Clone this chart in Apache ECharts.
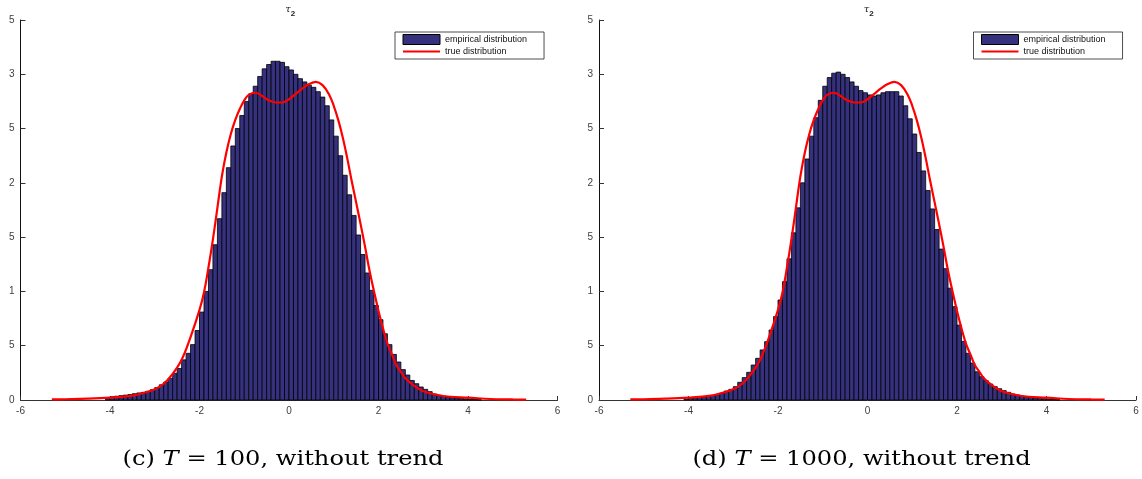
<!DOCTYPE html>
<html>
<head>
<meta charset="utf-8">
<title>tau_2: empirical vs true distribution</title>
<script src="https://cdn.jsdelivr.net/npm/echarts@6/dist/echarts.min.js"></script>
<style>
  * { margin: 0; padding: 0; }
  html, body { background: #fff; }
  #chart { width: 1142px; height: 479px; }
</style>
</head>
<body>
<div id="chart"></div>
<script>
// histogram bins: first bin starts at binLeft, all bins binWidth wide
var binLeft = -4.1;
var binWidth = 0.1;

// (c) T = 100
var histT100 = [
  0.0015, 0.003, 0.0035, 0.004, 0.0045, 0.005, 0.0058, 0.0065, 0.007, 0.008,
  0.0095, 0.0115, 0.014, 0.0165, 0.020, 0.0246, 0.029, 0.037, 0.043, 0.051,
  0.064, 0.081, 0.100, 0.120, 0.143, 0.167, 0.191, 0.214, 0.234, 0.250,
  0.262, 0.275, 0.282, 0.289, 0.298, 0.305, 0.309, 0.312, 0.312, 0.311,
  0.307, 0.304, 0.300, 0.296, 0.293, 0.290, 0.288, 0.284, 0.279, 0.271,
  0.258, 0.243, 0.225, 0.207, 0.189, 0.170, 0.152, 0.134, 0.117, 0.101,
  0.087, 0.074, 0.061, 0.051, 0.042, 0.035, 0.028, 0.023, 0.018, 0.015,
  0.012, 0.0098, 0.0077, 0.0055, 0.0043, 0.0034, 0.0028, 0.0022, 0.0018, 0.0014,
  0.0011, 0.0008, 0.0005, 0.0003
];

// (d) T = 1000
var histT1000 = [
  0.001, 0.0015, 0.002, 0.0025, 0.003, 0.0035, 0.0042, 0.005, 0.0061, 0.0083,
  0.0098, 0.0123, 0.0163, 0.0206, 0.0255, 0.0322, 0.0384, 0.0461, 0.0537, 0.0645,
  0.0768, 0.0921, 0.109, 0.130, 0.154, 0.177, 0.200, 0.222, 0.243, 0.260,
  0.276, 0.289, 0.297, 0.301, 0.302, 0.300, 0.297, 0.293, 0.289, 0.285,
  0.283, 0.281, 0.280, 0.281, 0.283, 0.284, 0.284, 0.284, 0.280, 0.271,
  0.259, 0.245, 0.228, 0.211, 0.193, 0.176, 0.157, 0.139, 0.121, 0.103,
  0.086, 0.069, 0.054, 0.043, 0.034, 0.026, 0.0215, 0.0178, 0.0147, 0.0123,
  0.0104, 0.0086, 0.0071, 0.0055, 0.0046, 0.0037, 0.0031, 0.0025, 0.002, 0.0015,
  0.0012, 0.0008, 0.0005, 0.0003
];

// true density (same in both panels)
var curveX = [-5.3, -5.0, -4.5, -4.0, -3.5, -3.3, -3.0, -2.8, -2.6, -2.4,
  -2.2, -2.0, -1.9, -1.8, -1.7, -1.6, -1.5, -1.4, -1.3, -1.2,
  -1.1, -1.0, -0.9, -0.75, -0.6, -0.45, -0.3, -0.15, 0.0, 0.15,
  0.3, 0.45, 0.6, 0.75, 0.9, 1.0, 1.1, 1.2, 1.3, 1.4,
  1.5, 1.6, 1.7, 1.8, 1.9, 2.0, 2.1, 2.2, 2.3, 2.4,
  2.5, 2.6, 2.8, 3.0, 3.3, 3.6, 4.0, 4.5, 5.0, 5.3];
var curveY = [0.0005, 0.0007, 0.0012, 0.0022, 0.004, 0.006, 0.010, 0.015, 0.024, 0.037,
  0.058, 0.083, 0.099, 0.122, 0.148, 0.177, 0.206, 0.228, 0.245, 0.258,
  0.268, 0.276, 0.281, 0.283, 0.280, 0.276, 0.274, 0.274, 0.277, 0.282,
  0.287, 0.291, 0.293, 0.290, 0.281, 0.271, 0.258, 0.242, 0.223, 0.202,
  0.182, 0.162, 0.141, 0.119, 0.100, 0.082, 0.066, 0.052, 0.042, 0.032,
  0.026, 0.020, 0.013, 0.008, 0.0048, 0.003, 0.0022, 0.0009, 0.0005, 0.0003];

var captionTag = ['(c) ', '(d) '];
var captionT = ['100', '1000'];

var barFill = '#35317f';

function histData(h) {
  return h.map(function (v, i) {
    return [binLeft + i * binWidth, binLeft + (i + 1) * binWidth, v];
  });
}
function curveData() {
  return curveX.map(function (x, i) { return [x, curveY[i]]; });
}
function renderBar(params, api) {
  var p0 = api.coord([api.value(0), api.value(2)]);
  var p1 = api.coord([api.value(1), 0]);
  return {
    type: 'rect',
    shape: { x: p0[0], y: p0[1], width: p1[0] - p0[0], height: p1[1] - p0[1] },
    style: { fill: barFill, stroke: '#000', lineWidth: 0.8 }
  };
}

var panelLeft = [20.5, 599];
var grids = [], xAxes = [], yAxes = [], series = [], legends = [], graphics = [];
var axisFont = { fontFamily: 'Liberation Sans', fontSize: 10, color: '#404040' };

[histT100, histT1000].forEach(function (hist, k) {
  grids.push({ left: panelLeft[k], top: 20, width: 537, height: 380 });
  xAxes.push({
    type: 'value', gridIndex: k, min: -6, max: 6, interval: 2,
    axisLine: { onZero: false, lineStyle: { color: '#333', width: 1 } },
    axisTick: { inside: true, length: 4, lineStyle: { color: '#333' } },
    axisLabel: Object.assign({ margin: 6 }, axisFont),
    splitLine: { show: false }
  });
  yAxes.push({
    type: 'value', gridIndex: k, min: 0, max: 0.35, interval: 0.05,
    axisLine: { show: true, onZero: false, lineStyle: { color: '#111', width: 1 } },
    axisTick: { show: true, inside: true, length: 5, lineStyle: { color: '#333' } },
    axisLabel: Object.assign({
      margin: 6,
      // the source figure clips the y labels to their last character
      formatter: function (v) { return String(+v.toFixed(2)).slice(-1); }
    }, axisFont),
    splitLine: { show: false }
  });
  series.push({
    name: 'empirical distribution', type: 'custom',
    xAxisIndex: k, yAxisIndex: k,
    renderItem: renderBar,
    encode: { x: [0, 1], y: 2 },
    itemStyle: { color: barFill, borderColor: '#000' },
    data: histData(hist),
    silent: true
  });
  series.push({
    name: 'true distribution', type: 'line',
    xAxisIndex: k, yAxisIndex: k,
    smooth: 0.4, symbol: 'none', showSymbol: false,
    lineStyle: { color: '#ff0000', width: 2.2 },
    itemStyle: { color: '#ff0000' },
    data: curveData(),
    z: 5
  });
  legends.push({
    left: panelLeft[k] + 374.5, top: 32,
    orient: 'vertical',
    padding: [2, 17, 3, 7],
    itemWidth: 37, itemHeight: 10, itemGap: 2,
    borderColor: '#222', borderWidth: 0.8,
    backgroundColor: '#fff',
    textStyle: { fontFamily: 'Liberation Sans', fontSize: 9, color: '#111' },
    data: [
      { name: 'empirical distribution', icon: 'rect',
        itemStyle: { color: barFill, borderColor: '#000', borderWidth: 1 } },
      { name: 'true distribution', itemStyle: { opacity: 0 },
        lineStyle: { color: '#ff0000', width: 2 } }
    ],
    selectedMode: false
  });
  var cx = panelLeft[k] + 268.5;
  graphics.push({
    type: 'text', x: cx - 1, y: 9,
    style: { text: 'τ', font: 'italic 10px "DejaVu Serif"', fill: '#222', align: 'center', verticalAlign: 'middle' }
  });
  graphics.push({
    type: 'text', x: cx + 4, y: 14,
    style: { text: '2', font: 'bold 8px "Liberation Sans"', fill: '#222', align: 'center', verticalAlign: 'middle' }
  });
  graphics.push({
    type: 'text', x: cx - 6, y: 460, scaleX: 1.15,
    style: {
      text: captionTag[k] + '{i|T} = ' + captionT[k] + ', without trend',
      font: '21px "DejaVu Serif"', fill: '#000',
      align: 'center', verticalAlign: 'middle',
      rich: { i: { fontStyle: 'italic', fontFamily: 'DejaVu Serif', fontSize: 21 } }
    }
  });
});

var chart = echarts.init(document.getElementById('chart'));
chart.setOption({
  animation: false,
  grid: grids,
  xAxis: xAxes,
  yAxis: yAxes,
  legend: legends,
  series: series,
  graphic: graphics
});
</script>
</body>
</html>
